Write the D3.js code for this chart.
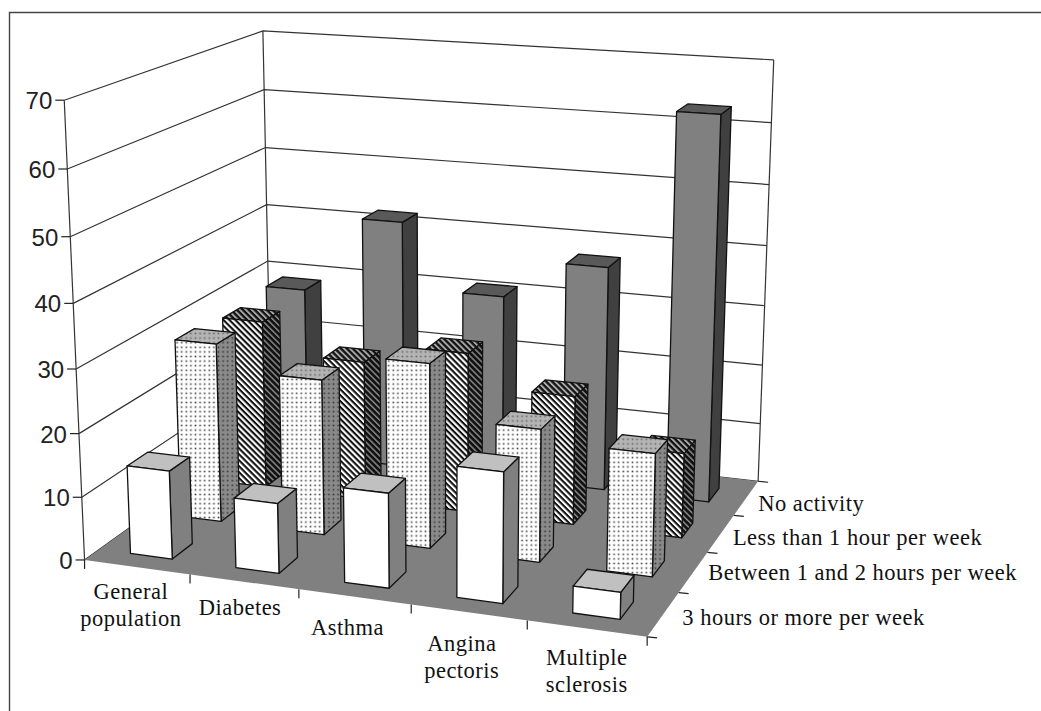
<!DOCTYPE html>
<html>
<head>
<meta charset="utf-8">
<script src="https://cdnjs.cloudflare.com/ajax/libs/d3/7.8.5/d3.min.js"></script>
<style>
  html, body { margin: 0; padding: 0; background: #fff; }
  svg { display: block; }
  .num { font-family: "Liberation Sans", Arial, sans-serif; font-size: 24px; fill: #222; }
  .lab { font-family: "Liberation Serif", "Times New Roman", serif; font-size: 22.5px; fill: #111; letter-spacing: 0.5px; }
</style>
</head>
<body>
<div class="chart"></div>
<script>
const categories = ["General population", "Diabetes", "Asthma", "Angina pectoris", "Multiple sclerosis"];
const levels = ["3 hours or more per week", "Between 1 and 2 hours per week", "Less than 1 hour per week", "No activity"];

const threeHours = [14, 11, 14.7, 20, 4.1];
const oneToTwo = [29, 25, 29.4, 21, 19.2];
const underOne = [28, 23, 26.2, 21, 13.7];
const noActivity = [29, 42, 31, 37.4, 63.2];
const allSeries = [threeHours, oneToTwo, underOne, noActivity];

const yTicks = [0, 10, 20, 30, 40, 50, 60, 70];

const width = 1041, height = 711;

const svg = d3.select(".chart").append("svg")
  .attr("width", width)
  .attr("height", height);

// the chart box in screen pixels, used to fit the camera
// [u, w, h] -> [px, py], u along categories, w into the page, h up
const fit = [
  [0, 0, 0, 84, 560],
  [1, 0, 0, 647, 637],
  [1, 1, 0, 758, 481],
  [0, 1, 0, 272, 426],
  [0, 0, 1, 65, 100],
  [0, 1, 1, 262, 31],
  [1, 1, 1, 774, 60]
];

function solve(A, b) {
  const n = b.length;
  const M = A.map((r, i) => r.concat(b[i]));
  for (let i = 0; i < n; i++) {
    let p = i;
    for (let k = i + 1; k < n; k++) if (Math.abs(M[k][i]) > Math.abs(M[p][i])) p = k;
    [M[i], M[p]] = [M[p], M[i]];
    for (let k = 0; k < n; k++) {
      if (k === i) continue;
      const f = M[k][i] / M[i][i];
      for (let j = i; j <= n; j++) M[k][j] -= f * M[i][j];
    }
  }
  return M.map((r, i) => r[n] / r[i]);
}

// least squares for the 11 camera numbers
const rows = [], rhs = [];
fit.forEach(([u, w, h, px, py]) => {
  rows.push([u, w, h, 1, 0, 0, 0, 0, -px * u, -px * w, -px * h]); rhs.push(px);
  rows.push([0, 0, 0, 0, u, w, h, 1, -py * u, -py * w, -py * h]); rhs.push(py);
});
const ata = d3.range(11).map(i => d3.range(11).map(j => d3.sum(rows, r => r[i] * r[j])));
const atb = d3.range(11).map(i => d3.sum(rows, (r, k) => r[i] * rhs[k]));
const C = solve(ata, atb);

function project(u, w, h) {
  const d = C[8] * u + C[9] * w + C[10] * h + 1;
  return [
    (C[0] * u + C[1] * w + C[2] * h + C[3]) / d,
    (C[4] * u + C[5] * w + C[6] * h + C[7]) / d
  ];
}

const uScale = d3.scaleBand().domain(categories).range([0, 1]).paddingInner(0.6).paddingOuter(0.3);
const wScale = d3.scaleBand().domain(levels).range([0, 1]).paddingInner(0.6).paddingOuter(0.3).align(0.46);
const hScale = d3.scaleLinear().domain([0, 70]).range([0, 1]);

const poly = d3.line();
function quad(pts) { return poly(pts) + "Z"; }

// fills
const defs = svg.append("defs");

function dots(id, bg, ink) {
  const p = defs.append("pattern").attr("id", id).attr("patternUnits", "userSpaceOnUse")
    .attr("width", 4.6).attr("height", 4.6);
  p.append("rect").attr("width", 4.6).attr("height", 4.6).attr("fill", bg);
  p.append("rect").attr("x", 1.5).attr("y", 1.5).attr("width", 1.6).attr("height", 1.6).attr("fill", ink);
}
function stripes(id, bg, sw) {
  const p = defs.append("pattern").attr("id", id).attr("patternUnits", "userSpaceOnUse")
    .attr("width", 4.2).attr("height", 4.2).attr("patternTransform", "rotate(45)");
  p.append("rect").attr("width", 4.2).attr("height", 4.2).attr("fill", bg);
  p.append("rect").attr("width", 4.2).attr("height", sw).attr("fill", "#111");
}
dots("dotFront", "#fff", "#444");
dots("dotTop", "#b4b4b4", "#666");
dots("dotSide", "#8a8a8a", "#333");
stripes("hatchFront", "#fff", 2.1);
stripes("hatchTop", "#aaa", 2.3);
stripes("hatchSide", "#888", 2.7);

const fills = [
  { front: "#fff", top: "#c0c0c0", side: "#808080" },
  { front: "url(#dotFront)", top: "url(#dotTop)", side: "url(#dotSide)" },
  { front: "url(#hatchFront)", top: "url(#hatchTop)", side: "url(#hatchSide)" },
  { front: "#808080", top: "#595959", side: "#404040" }
];

// frame, only top and left are in the picture
svg.append("path")
  .attr("d", poly([[9.5, height], [9.5, 12.5], [width, 12.5]]))
  .attr("fill", "none").attr("stroke", "#444").attr("stroke-width", 1.4);

// walls and gridlines
const wall = svg.append("g").attr("fill", "none").attr("stroke", "#333").attr("stroke-width", 1.2);
yTicks.forEach(t => {
  const h = hScale(t);
  wall.append("path").attr("d", poly([project(0, 0, h), project(0, 1, h), project(1, 1, h)]));
});
[[0, 0], [0, 1], [1, 1]].forEach(([u, w]) => {
  wall.append("path").attr("d", poly([project(u, w, 0), project(u, w, 1)]));
});

// floor
svg.append("path")
  .attr("d", quad([project(0, 0, 0), project(1, 0, 0), project(1, 1, 0), project(0, 1, 0)]))
  .attr("fill", "#808080");

// axis ticks and labels
const axis = svg.append("g").attr("stroke", "#222").attr("stroke-width", 1.2);
yTicks.forEach(t => {
  const p = project(0, 0, hScale(t));
  axis.append("line").attr("x1", p[0] - 9).attr("x2", p[0]).attr("y1", p[1]).attr("y2", p[1]);
  svg.append("text").attr("class", "num")
    .attr("x", p[0] - 12).attr("y", p[1] + 9)
    .attr("text-anchor", "end")
    .text(t);
});

d3.range(0, 6).forEach(i => {
  const p = project(i / 5, 0, 0);
  axis.append("line").attr("x1", p[0]).attr("x2", p[0]).attr("y1", p[1]).attr("y2", p[1] + 9);
});
d3.range(0, 5).forEach(i => {
  const p = project(1, i / 4, 0);
  axis.append("line").attr("x1", p[0]).attr("x2", p[0] + 10).attr("y1", p[1]).attr("y2", p[1] + 1);
});

// bars, back row first
const bars = svg.append("g").attr("stroke", "#111").attr("stroke-width", 1.3).attr("stroke-linejoin", "round");
d3.range(levels.length - 1, -1, -1).forEach(s => {
  categories.forEach((cat, c) => {
    const u0 = uScale(cat), u1 = u0 + uScale.bandwidth();
    const w0 = wScale(levels[s]), w1 = w0 + wScale.bandwidth();
    const h = hScale(allSeries[s][c]);
    bars.append("path").attr("fill", fills[s].side)
      .attr("d", quad([project(u1, w0, 0), project(u1, w1, 0), project(u1, w1, h), project(u1, w0, h)]));
    bars.append("path").attr("fill", fills[s].top)
      .attr("d", quad([project(u0, w0, h), project(u1, w0, h), project(u1, w1, h), project(u0, w1, h)]));
    bars.append("path").attr("fill", fills[s].front)
      .attr("d", quad([project(u0, w0, 0), project(u1, w0, 0), project(u1, w0, h), project(u0, w0, h)]));
  });
});

// category labels
const labelLines = [["General", "population"], ["Diabetes"], ["Asthma"], ["Angina", "pectoris"], ["Multiple", "sclerosis"]];
const labelNudge = [[-6, 32], [-4, 33], [-7, 38], [-7, 39], [0, 36]];
categories.forEach((cat, i) => {
  const p = project((i + 0.5) / 5, 0, 0);
  const t = svg.append("text").attr("class", "lab").attr("text-anchor", "middle");
  labelLines[i].forEach((line, k) => {
    t.append("tspan")
      .attr("x", p[0] + labelNudge[i][0])
      .attr("y", p[1] + labelNudge[i][1] + k * 27)
      .text(line);
  });
});

// level labels
const levelNudge = [[19, 11], [15, 8], [12, 12], [12, 13]];
levels.forEach((lev, i) => {
  const p = project(1, (i + 0.5) / 4, 0);
  svg.append("text").attr("class", "lab")
    .attr("x", p[0] + levelNudge[i][0])
    .attr("y", p[1] + levelNudge[i][1])
    .text(lev);
});
</script>
</body>
</html>
